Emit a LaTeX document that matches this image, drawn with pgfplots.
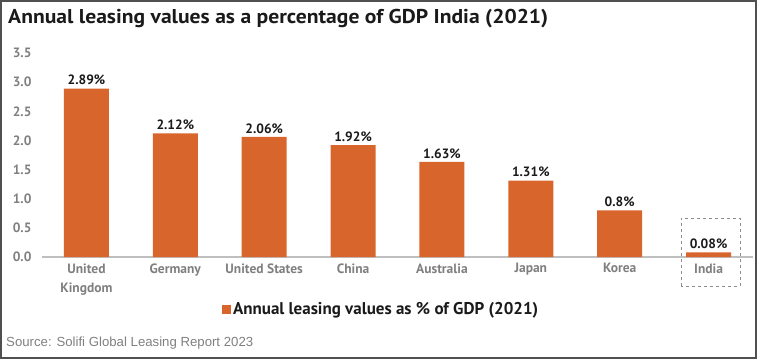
\documentclass[border=0pt]{standalone}
\usepackage{fontspec}
\setmainfont{PT Sans}
\newfontfamily\titlefont[FakeStretch=1.08]{PT Sans}
\newfontfamily\srcfont{Liberation Sans}
\usepackage{pgfplots}
\pgfplotsset{compat=1.18}
\definecolor{barc}{HTML}{D8652B}
\definecolor{tickc}{HTML}{7F7F7F}
\definecolor{framec}{HTML}{505050}
\definecolor{titlec}{HTML}{1A1A1A}
\begin{document}
\begin{tikzpicture}[x=1pt,y=1pt]
\path[use as bounding box] (0,0) rectangle (757,359);
\draw[framec, line width=2pt] (1,1) rectangle (756,358);
\node[anchor=base west, inner sep=0pt, font=\titlefont\fontsize{20}{23}\selectfont\bfseries, text=titlec] at (8,335) {Annual leasing values as a percentage of GDP India (2021)};
\begin{axis}[
  at={(42pt,102pt)}, anchor=south west,
  scale only axis, width=711pt, height=204pt,
  xmin=-0.5, xmax=7.5, ymin=0, ymax=3.5,
  ytick={0,0.5,1,1.5,2,2.5,3,3.5},
  yticklabels={0.0,0.5,1.0,1.5,2.0,2.5,3.0,3.5},
  yticklabel style={font=\fontsize{13.5}{16}\selectfont\bfseries, text=tickc, anchor=east, xshift=-7pt},
  xtick={0,1,2,3,4,5,6,7},
  xticklabels={United\\Kingdom, Germany, United States, China, Australia, Japan, Korea, India},
  xticklabel style={align=center, font=\fontsize{13.5}{19}\selectfont\bfseries, text=tickc, anchor=north, yshift=-3pt},
  major tick length=0pt,
  axis x line*=bottom, axis y line*=left,
  y axis line style={draw=none},
  x axis line style={draw=black!25, line width=1.5pt},
  ybar, bar width=45pt,
  point meta=explicit symbolic,
  nodes near coords,
  nodes near coords style={font=\fontsize{13.5}{16}\selectfont\bfseries, text=titlec},
  legend style={at={(0.477,-0.255)}, anchor=center, draw=none, fill=none, font=\fontsize{17}{19}\selectfont\bfseries, text=titlec, inner sep=0pt},
  legend image code/.code={\fill[barc] (0pt,-5pt) rectangle (9pt,4.5pt);},
]
\addplot[fill=barc, draw=none] coordinates {(0,2.89) [2.89\%] (1,2.12) [2.12\%] (2,2.06) [2.06\%] (3,1.92) [1.92\%] (4,1.63) [1.63\%] (5,1.31) [1.31\%] (6,0.8) [0.8\%] (7,0.08) [0.08\%]};
\addlegendentry{Annual leasing values as \% of GDP (2021)}
\end{axis}
\draw[black!45, dashed, line width=0.8pt] (681,73) rectangle (740,141);
\node[anchor=base west, inner sep=0pt, font=\srcfont\fontsize{13.2}{15}\selectfont, text=black!50] at (6,13) {Source: Solifi Global Leasing Report 2023};
\end{tikzpicture}
\end{document}
